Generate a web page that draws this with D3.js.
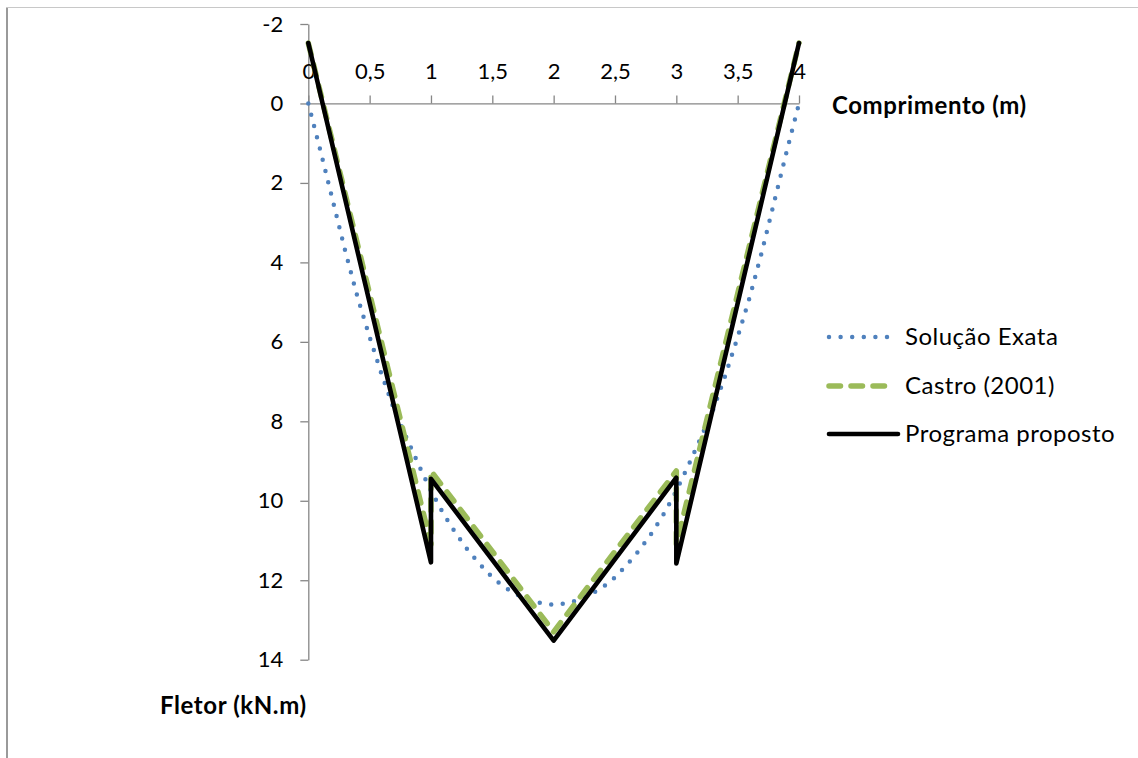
<!DOCTYPE html>
<html>
<head>
<meta charset="utf-8">
<script src="https://cdn.jsdelivr.net/npm/d3@7"></script>
<style>
  html, body { margin: 0; padding: 0; background: #fff; }
  svg { display: block; }
  text { font-family: Lato, "Open Sans", sans-serif; fill: #000; }
</style>
</head>
<body>
<svg id="chart" width="1138" height="758"></svg>
<script>
// ---- data ----
const exactX = [0,0.1,0.2,0.3,0.4,0.5,0.6,0.7,0.8,0.9,1.0,1.1,1.2,1.3,1.4,1.5,1.6,1.7,1.8,1.9,2.0,
                2.1,2.2,2.3,2.4,2.5,2.6,2.7,2.8,2.9,3.0,3.1,3.2,3.3,3.4,3.5,3.6,3.7,3.8,3.9,4.0];
const exactM = [0,1.2,2.45,3.7,4.86,5.88,6.84,7.71,8.41,9.1,9.75,10.32,10.81,11.24,11.6,11.93,12.18,12.36,12.5,12.58,12.62,
                12.58,12.5,12.36,12.18,11.93,11.6,11.24,10.81,10.32,9.75,9.1,8.41,7.71,6.84,5.88,4.86,3.7,2.45,1.2,0];
const castroX = [0,1,1,2,3,3,4];
const castroM = [-1.52,11.1,9.25,13.3,9.25,11.1,-1.52];
const progX = [0,1,1,2,3,3,4];
const progM = [-1.52,11.55,9.45,13.52,9.42,11.58,-1.52];
const xTicks = [0,0.5,1,1.5,2,2.5,3,3.5,4];
const yTicks = [-2,0,2,4,6,8,10,12,14];
const seriesNames = ["Solução Exata","Castro (2001)","Programa proposto"];
const xTitle = "Comprimento (m)";
const yTitle = "Fletor (kN.m)";

// ---- layout ----
const svg = d3.select("#chart");
const x = d3.scaleLinear().domain([0,4]).range([308.3, 799]);
const y = d3.scaleLinear().domain([-2,14]).range([24, 659.7]);
const axisColor = "#868686";
const tickFont = 22;
const textFont = 24;

// frame
svg.append("line").attr("x1",7).attr("y1",7).attr("x2",7).attr("y2",758)
  .attr("stroke","#9a9a9a").attr("stroke-width",2);
svg.append("line").attr("x1",6).attr("y1",7.5).attr("x2",1138).attr("y2",7.5)
  .attr("stroke","#c8c8c8").attr("stroke-width",1);

const fmt = d => String(d).replace(".", ",");

// y axis
const gy = svg.append("g").attr("transform",`translate(${x(0)},0)`)
  .call(d3.axisLeft(y).tickValues(yTicks).tickFormat(fmt).tickSize(8).tickSizeOuter(0).tickPadding(17));
// x axis
const gx = svg.append("g").attr("transform",`translate(0,${y(0)})`)
  .call(d3.axisTop(x).tickValues(xTicks).tickFormat(fmt).tickSize(8).tickSizeOuter(0).tickPadding(16));
[gx, gy].forEach(g => {
  g.selectAll("path.domain").attr("stroke", axisColor).attr("stroke-width",1.3);
  g.selectAll(".tick line").attr("stroke", axisColor).attr("stroke-width",1.3);
  g.selectAll(".tick text").attr("font-size", tickFont).attr("font-family","Lato").attr("fill","#000");
});
gx.selectAll(".tick text").attr("dy","0em");

// series
const line = d3.line().x(d => x(d[0])).y(d => y(d[1]));
const exactPts = exactX.map((v,i) => [v, exactM[i]]);
const castroPts = castroX.map((v,i) => [v, castroM[i]]);
const progPts = progX.map((v,i) => [v, progM[i]]);

const styles = [
  {color:"#4F81BD", width:4.5, dash:"0 11.6", cap:"round"},
  {color:"#9BBB59", width:5.5, dash:"11.5 10.5", cap:"round"},
  {color:"#000000", width:4.6, dash:null, cap:"round"}
];
const data = [exactPts, castroPts, progPts];
data.forEach((pts, i) => {
  const s = styles[i];
  svg.append("path").datum(pts).attr("d", line)
    .attr("fill","none").attr("stroke", s.color).attr("stroke-width", s.width)
    .attr("stroke-dasharray", s.dash).attr("stroke-linecap", s.cap)
    .attr("stroke-linejoin", "round");
});

// axis titles
svg.append("text").attr("x", 832).attr("y", 114).attr("font-size", textFont)
  .attr("letter-spacing", 0.6).attr("font-weight","bold").text(xTitle);
svg.append("text").attr("x", 160).attr("y", 714).attr("font-size", textFont)
  .attr("letter-spacing", 0.6).attr("font-weight","bold").text(yTitle);

// legend
const legY = [337, 386, 434];
const legEnd = [888, 888, 898];
seriesNames.forEach((name, i) => {
  const s = styles[i];
  const yy = legY[i];
  svg.append("line").attr("x1", 829).attr("x2", legEnd[i]).attr("y1", yy).attr("y2", yy)
    .attr("stroke", s.color).attr("stroke-width", s.width)
    .attr("stroke-dasharray", s.dash).attr("stroke-linecap", s.cap);
  svg.append("text").attr("x", 905).attr("y", yy).attr("dy","0.35em")
    .attr("letter-spacing", 0.5).attr("font-size", textFont).text(name);
});
</script>
</body>
</html>
